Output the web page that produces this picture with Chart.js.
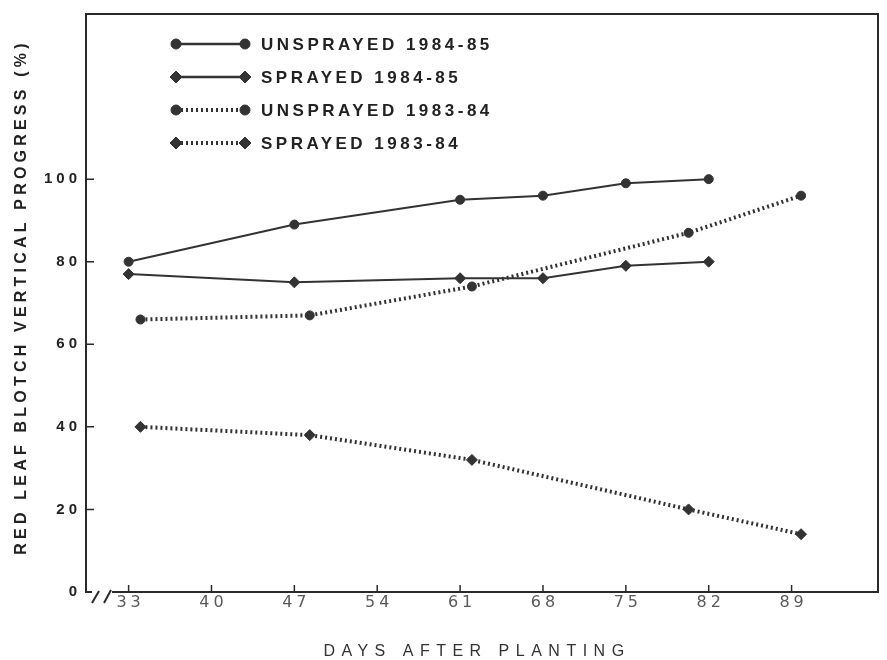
<!DOCTYPE html>
<html>
<head>
<meta charset="utf-8">
<script src="https://cdn.jsdelivr.net/npm/chart.js@4/dist/chart.umd.min.js"></script>
<style>
html,body{margin:0;padding:0;background:#fff;}
#wrap{width:887px;height:660px;position:relative;}
</style>
</head>
<body>
<div id="wrap"><canvas id="c" width="887" height="660"></canvas></div>
<script>
// ---- data ----
const seriesNames = ['UNSPRAYED 1984-85', 'SPRAYED 1984-85', 'UNSPRAYED 1983-84', 'SPRAYED 1983-84'];
const days8485 = [33, 47, 61, 68, 75, 82];
const unsprayed8485 = [80, 89, 95, 96, 99, 100];
const sprayed8485 = [77, 75, 76, 76, 79, 80];
const days8384 = [34, 48.3, 62, 80.3, 89.8];
const unsprayed8384 = [66, 67, 74, 87, 96];
const sprayed8384 = [40, 38, 32, 20, 14];
const xTickValues = [33, 40, 47, 54, 61, 68, 75, 82, 89];
const yTickValues = [0, 20, 40, 60, 80, 100];
const xTitle = 'DAYS AFTER PLANTING';
const yTitle = 'RED LEAF BLOTCH VERTICAL PROGRESS (%)';

const INK = '#333333';
const toPts = (xs, ys) => xs.map((x, i) => ({x: x, y: ys[i]}));

const datasets = [
  {label: seriesNames[0], data: toPts(days8485, unsprayed8485), pointStyle: 'circle', pointRadius: 4.5, borderWidth: 2, borderDash: []},
  {label: seriesNames[1], data: toPts(days8485, sprayed8485), pointStyle: 'rectRot', pointRadius: 5.5, borderWidth: 2, borderDash: []},
  {label: seriesNames[2], data: toPts(days8384, unsprayed8384), pointStyle: 'circle', pointRadius: 4.5, borderWidth: 4, borderDash: [2, 3]},
  {label: seriesNames[3], data: toPts(days8384, sprayed8384), pointStyle: 'rectRot', pointRadius: 5.5, borderWidth: 4, borderDash: [2, 3]}
].map(d => Object.assign(d, {
  borderColor: INK, backgroundColor: INK, pointBackgroundColor: INK, pointBorderColor: INK,
  pointBorderWidth: 1, tension: 0, fill: false, borderCapStyle: 'butt'
}));

function patchScale(scale, labelSpacing, labelDx, titleSpacing, titleDx, titleDy) {
  if (!scale || scale._lsPatched) return;
  scale._lsPatched = true;
  const proto = Object.getPrototypeOf(scale);
  scale.drawLabels = function (area) {
    const ctx = this.ctx;
    ctx.save();
    ctx.letterSpacing = labelSpacing + 'px';
    ctx.translate(labelDx, 0);
    proto.drawLabels.call(this, area);
    ctx.restore();
  };
  scale.drawTitle = function () {
    const ctx = this.ctx;
    ctx.save();
    ctx.letterSpacing = titleSpacing + 'px';
    ctx.translate(titleDx, titleDy);
    proto.drawTitle.call(this);
    ctx.restore();
  };
}

const framePlugin = {
  id: 'frame',
  beforeDraw(chart) {
    patchScale(chart.scales.x, 4, 2, 6.5, -5, 0);
    patchScale(chart.scales.y, 4, 0, 4.2, 0, -6);
    const ctx = chart.ctx;
    ctx.save();
    ctx.fillStyle = '#ffffff';
    ctx.fillRect(0, 0, chart.width, chart.height);
    ctx.restore();
  },
  afterDraw(chart) {
    const ctx = chart.ctx;
    const a = chart.chartArea;
    const xs = chart.scales.x, ys = chart.scales.y;
    ctx.save();
    ctx.strokeStyle = '#2a2a2a';
    ctx.lineWidth = 2;
    ctx.lineCap = 'square';
    ctx.beginPath();
    ctx.moveTo(a.left + 5, a.bottom);
    ctx.lineTo(a.left, a.bottom);
    ctx.lineTo(a.left, a.top);
    ctx.lineTo(a.right, a.top);
    ctx.lineTo(a.right, a.bottom);
    ctx.lineTo(a.left + 27, a.bottom);
    ctx.stroke();
    // axis break marks
    ctx.lineCap = 'butt';
    ctx.beginPath();
    ctx.moveTo(a.left + 6, a.bottom + 11); ctx.lineTo(a.left + 13, a.bottom - 1);
    ctx.moveTo(a.left + 18, a.bottom + 11); ctx.lineTo(a.left + 25, a.bottom - 2);
    ctx.stroke();
    // inner tick marks
    ctx.lineWidth = 1.5;
    ctx.beginPath();
    yTickValues.forEach(v => {
      if (v === 0) return;
      const py = ys.getPixelForValue(v);
      ctx.moveTo(a.left, py); ctx.lineTo(a.left + 8, py);
    });
    xTickValues.forEach(v => {
      const px = xs.getPixelForValue(v);
      ctx.moveTo(px, a.bottom); ctx.lineTo(px, a.bottom - 7);
    });
    ctx.stroke();

    // legend
    const lx0 = 176, lx1 = 245, ly0 = 44, step = 33;
    chart.data.datasets.forEach((d, i) => {
      const y = ly0 + i * step;
      ctx.save();
      ctx.strokeStyle = INK;
      ctx.lineWidth = d.borderWidth === 4 ? 4 : 2.5;
      ctx.setLineDash(d.borderDash);
      ctx.beginPath();
      ctx.moveTo(lx0, y); ctx.lineTo(lx1, y);
      ctx.stroke();
      ctx.setLineDash([]);
      ctx.fillStyle = INK;
      ctx.lineWidth = 1;
      const opt = {pointStyle: d.pointStyle, radius: d.pointStyle === 'circle' ? 5 : 6, rotation: 0, borderWidth: 1};
      Chart.helpers.drawPoint(ctx, opt, lx0, y);
      Chart.helpers.drawPoint(ctx, opt, lx1, y);
      ctx.letterSpacing = '3.5px';
      ctx.font = 'bold 17px "Liberation Sans", Arial, sans-serif';
      ctx.textBaseline = 'middle';
      ctx.textAlign = 'left';
      ctx.fillStyle = '#222';
      ctx.fillText(d.label, 261, y + 1);
      ctx.restore();
    });
    ctx.restore();
  }
};

new Chart(document.getElementById('c'), {
  type: 'line',
  data: {datasets: datasets},
  options: {
    responsive: false,
    animation: false,
    devicePixelRatio: 1,
    layout: {padding: {left: 0, right: 9, top: 11, bottom: 0}},
    plugins: {legend: {display: false}, tooltip: {enabled: false}, title: {display: false}},
    elements: {line: {borderJoinStyle: 'miter'}},
    scales: {
      x: {
        type: 'linear',
        min: 29.4,
        max: 96.3,
        grid: {display: false, drawTicks: false},
        border: {display: false},
        afterBuildTicks: s => { s.ticks = xTickValues.map(v => ({value: v})); },
        afterFit: s => { s.height = 68; },
        ticks: {
          color: '#5a5a5a',
          padding: 1,
          maxRotation: 0,
          autoSkip: false,
          font: {family: '"DejaVu Sans", Verdana, sans-serif', size: 16},
          callback: v => String(v)
        },
        title: {
          display: true,
          text: xTitle,
          color: '#333',
          padding: 0,
          font: {family: '"Liberation Sans", Arial, sans-serif', size: 16, lineHeight: 1}
        }
      },
      y: {
        type: 'linear',
        min: 0,
        max: 140,
        grid: {display: false, drawTicks: false},
        border: {display: false},
        afterBuildTicks: s => { s.ticks = yTickValues.map(v => ({value: v})); },
        afterFit: s => { s.width = 86; },
        ticks: {
          color: '#222',
          padding: 5,
          autoSkip: false,
          font: {family: '"Liberation Sans", Arial, sans-serif', size: 15, weight: 'bold'},
          callback: v => String(v)
        },
        title: {
          display: true,
          text: yTitle,
          color: '#222',
          padding: {top: 12, bottom: 0},
          font: {family: '"Liberation Sans", Arial, sans-serif', size: 16, weight: 'bold'}
        }
      }
    }
  },
  plugins: [framePlugin]
});
</script>
</body>
</html>
